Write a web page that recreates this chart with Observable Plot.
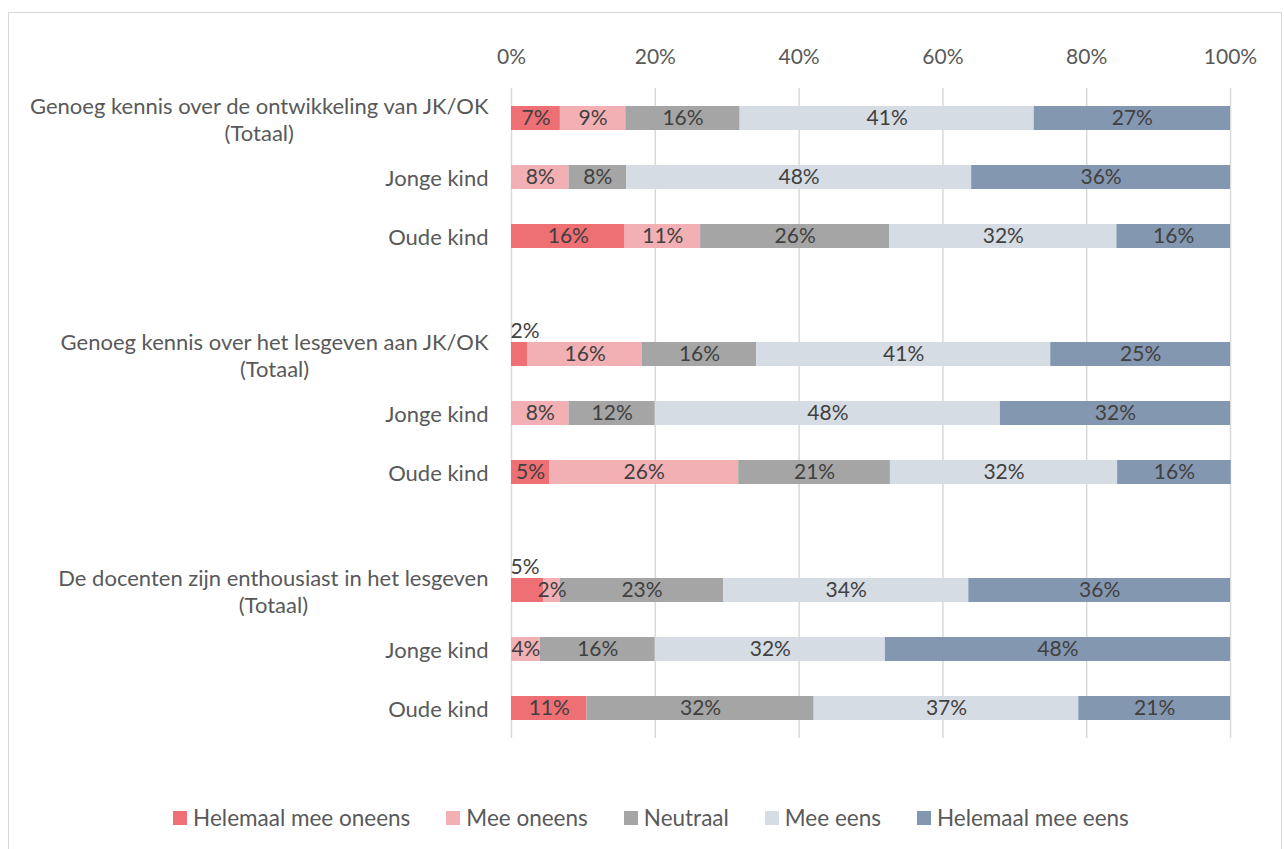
<!DOCTYPE html>
<html>
<head>
<meta charset="utf-8">
<script src="https://cdn.jsdelivr.net/npm/d3@7"></script>
<script src="https://cdn.jsdelivr.net/npm/@observablehq/plot@0.6"></script>
<style>
  html, body { margin: 0; padding: 0; background: #fff; }
  #frame { position: absolute; left: 8px; top: 12px; width: 1272px; height: 845px; border: 1px solid #d9d9d9; background: #fff; }
  #chart { position: absolute; left: 0; top: 0; width: 1272px; height: 765px; }
  #legend { position: absolute; left: 6px; width: 1272px; top: 791px; display: flex; justify-content: center; gap: 36px; font-family: Lato, sans-serif; font-size: 22.5px; color: #595959; }
  #legend .item { display: flex; align-items: center; }
  #legend .sw { width: 14px; height: 14px; margin-right: 6px; }
</style>
</head>
<body>
<div id="frame"><div id="chart"></div><div id="legend"></div></div>
<script>
// ---- data ----
const rowIds = ["r0", "r1", "r2", "r3", "r4", "r5", "r6", "r7", "r8"];
const rowLabels = [
  "Genoeg kennis over de ontwikkeling van JK/OK\n(Totaal)",
  "Jonge kind",
  "Oude kind",
  "Genoeg kennis over het lesgeven aan JK/OK\n(Totaal)",
  "Jonge kind",
  "Oude kind",
  "De docenten zijn enthousiast in het lesgeven\n(Totaal)",
  "Jonge kind",
  "Oude kind"
];
const yDomain = ["r0", "r1", "r2", "gap1", "r3", "r4", "r5", "gap2", "r6", "r7", "r8"];
const responses = ["Helemaal mee oneens", "Mee oneens", "Neutraal", "Mee eens", "Helemaal mee eens"];
const colors = ["#EE6F74", "#F2B0B4", "#A5A5A5", "#D6DCE4", "#8497B0"];
const helemaalMeeOneens = [6.8, 0, 15.8, 2.3, 0, 5.3, 4.5, 0, 10.5];
const meeOneens         = [9.1, 8.0, 10.5, 15.9, 8.0, 26.3, 2.3, 4.0, 0];
const neutraal          = [15.9, 8.0, 26.3, 15.9, 12.0, 21.1, 22.7, 16.0, 31.6];
const meeEens           = [40.9, 48.0, 31.6, 40.9, 48.0, 31.6, 34.1, 32.0, 36.8];
const helemaalMeeEens   = [27.3, 36.0, 15.8, 25.0, 32.0, 15.8, 36.4, 48.0, 21.1];
const xTicks = [0, 20, 40, 60, 80, 100];
// labels that sit above their bar: [row, response]
const raisedLabels = [["r3", "Helemaal mee oneens"], ["r6", "Helemaal mee oneens"]];

const series = [helemaalMeeOneens, meeOneens, neutraal, meeEens, helemaalMeeEens];
const data = [];
rowIds.forEach((row, i) => {
  responses.forEach((resp, j) => {
    data.push({row, response: resp, value: series[j][i]});
  });
});
const isRaised = d => raisedLabels.some(([r, c]) => r === d.row && c === d.response);
const fmt = v => Math.round(v) + "%";
const labelOf = Object.fromEntries(rowIds.map((id, i) => [id, rowLabels[i]]));

const chart = Plot.plot({
  width: 1272,
  height: 765,
  marginLeft: 502,
  marginRight: 51,
  marginTop: 75,
  marginBottom: 40,
  style: {fontFamily: "Lato, sans-serif", fontSize: "20px", background: "transparent"},
  x: {domain: [0, 100], axis: null},
  y: {domain: yDomain, axis: null, paddingInner: 0.59, paddingOuter: 0.3},
  color: {domain: responses, range: colors},
  marks: [
    Plot.gridX(xTicks, {stroke: "#d9d9d9", strokeOpacity: 1, strokeWidth: 1.5}),
    Plot.axisX({anchor: "top", ticks: xTicks, tickFormat: d => d + "%", tickSize: 0, tickPadding: 25, fill: "#595959", fontSize: 21, label: null}),
    Plot.barX(data, {x: "value", y: "row", fill: "response"}),
    Plot.text(data, Plot.stackX({x: "value", y: "row", text: d => (d.value > 0 && !isRaised(d)) ? fmt(d.value) : null, fill: "#404040", fontSize: 21})),
    Plot.text(data.filter(isRaised), {x: 0, y: "row", text: d => fmt(d.value), textAnchor: "start", dx: -1, dy: -23, fill: "#404040", fontSize: 21}),
    Plot.text(rowIds, {y: d => d, frameAnchor: "left", dx: -23, text: d => labelOf[d], textAnchor: "end", lineHeight: 1.23, fill: "#595959", fontSize: 22})
  ]
});
chart.style.position = "absolute";
chart.style.left = "0px";
chart.style.top = "0px";
chart.style.maxWidth = "none";
document.getElementById("chart").appendChild(chart);

// center multi-line category labels (like the original)
chart.querySelectorAll("text").forEach(t => {
  const spans = t.querySelectorAll("tspan");
  if (spans.length > 1) {
    let maxW = 0;
    spans.forEach(s => { maxW = Math.max(maxW, s.getComputedTextLength()); });
    t.setAttribute("text-anchor", "middle");
    t.style.textAnchor = "middle";
    spans.forEach(s => { s.setAttribute("x", -maxW / 2); s.setAttribute("text-anchor", "middle"); });
  }
});

// legend
const legend = document.getElementById("legend");
responses.forEach((r, i) => {
  const item = document.createElement("div");
  item.className = "item";
  const sw = document.createElement("div");
  sw.className = "sw";
  sw.style.background = colors[i];
  const lab = document.createElement("span");
  lab.textContent = r;
  item.appendChild(sw);
  item.appendChild(lab);
  legend.appendChild(item);
});
</script>
</body>
</html>
